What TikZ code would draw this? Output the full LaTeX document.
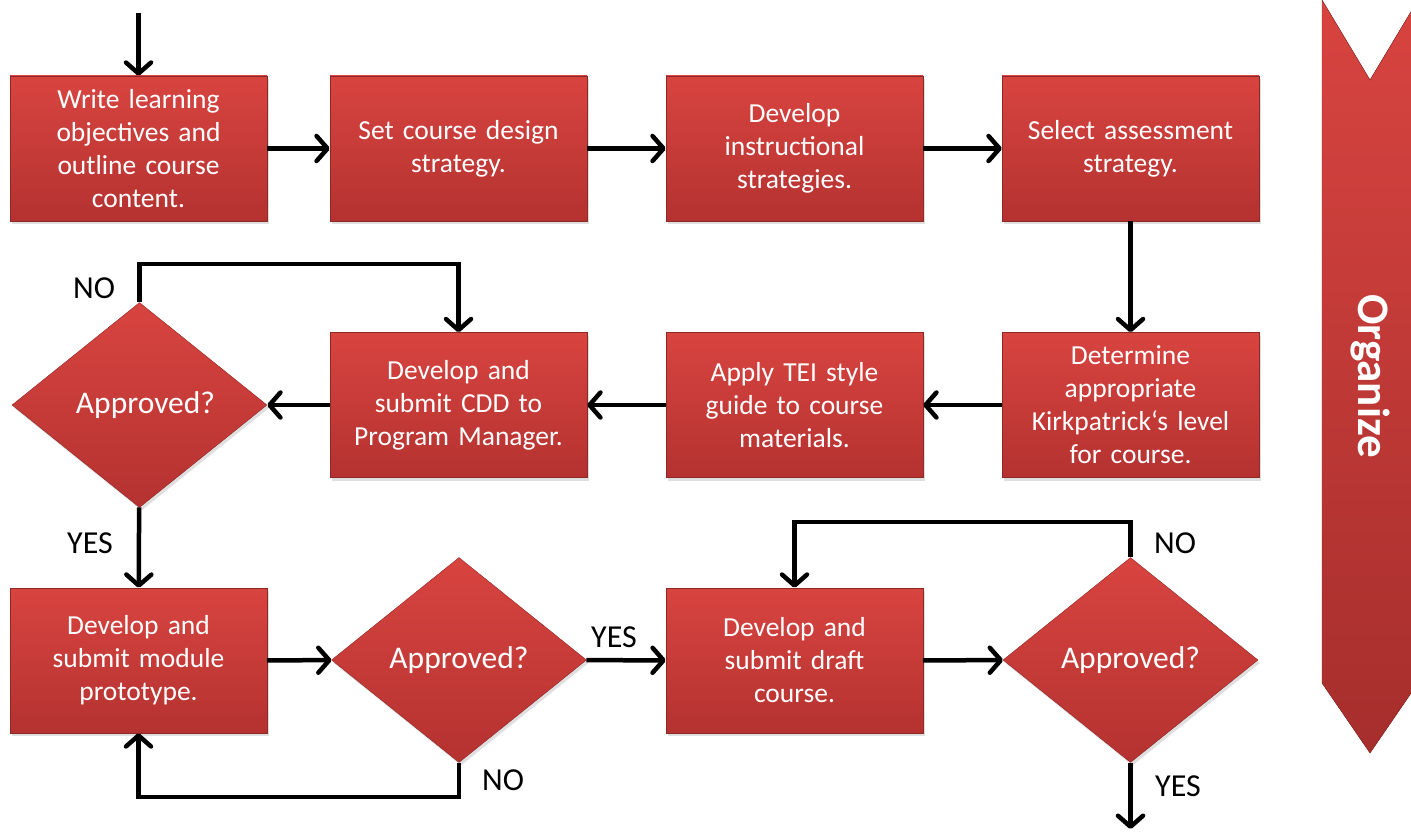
\documentclass[tikz,border=0pt]{standalone}
\usepackage{fontspec}
\setmainfont{Carlito}
\usetikzlibrary{shapes.geometric,arrows.meta,shadows}
\definecolor{boxtop}{RGB}{216,68,64}
\definecolor{boxbot}{RGB}{180,50,48}
\definecolor{boxline}{RGB}{140,40,38}
\begin{document}
\begin{tikzpicture}[x=1pt,y=-1pt,
  box/.style={rectangle, draw=boxline, top color=boxtop, bottom color=boxbot,
    minimum width=257pt, minimum height=145pt, text width=245pt, align=center,
    text=white, font=\fontsize{27.5}{33}\selectfont,
    drop shadow={opacity=0.25, shadow xshift=2pt, shadow yshift=-3pt}},
  decide/.style={diamond, draw=boxline, top color=boxtop, bottom color=boxbot,
    minimum width=255pt, minimum height=205pt, inner sep=0pt, align=center,
    text=white, font=\fontsize{31.5}{36}\selectfont,
    drop shadow={opacity=0.25, shadow xshift=2pt, shadow yshift=-3pt}},
  flow/.style={line width=4.5pt, -{Straight Barb[length=11pt,width=25pt,line width=4.5pt,round]}},
  lbl/.style={font=\fontsize{32}{36}\selectfont}]
\useasboundingbox (0,0) rectangle (1411,832);

% side banner
\fill[top color=boxtop, bottom color=boxbot!92!black, draw=boxline]
  (1322,0) -- (1370,80) -- (1418,0) -- (1418,683) -- (1370,753) -- (1322,683) -- cycle;
\node[rotate=-90, text=white, font=\fontsize{45}{50}\selectfont\bfseries] (organize) at (1370,376) {Organize};

% row 1
\node[box] (objectives) at (138.5,148.5) {Write learning\\objectives and\\outline course\\content.};
\node[box] (design) at (458.5,148.5) {Set course design\\strategy.};
\node[box] (instruct) at (794.5,148.5) {Develop\\instructional\\strategies.};
\node[box] (assess) at (1130.5,148.5) {Select assessment\\strategy.};

% row 2
\node[decide] (approveA) at (139.5,405) {\hspace*{12pt}Approved?};
\node[box] (cdd) at (458.5,405) {Develop and\\submit CDD to\\Program Manager.};
\node[box] (styleguide) at (794.5,405) {Apply TEI style\\guide to course\\materials.};
\node[box] (kirk) at (1130.5,405) {Determine\\appropriate\\Kirkpatrick‘s level\\for course.};

% row 3
\node[box] (prototype) at (138.5,660.5) {Develop and\\submit module\\prototype.};
\node[decide] (approveB) at (459,660) {Approved?};
\node[box] (draft) at (794.5,660.5) {Develop and\\submit draft\\course.};
\node[decide] (approveC) at (1130.5,660) {Approved?};

\coordinate (start) at (138.5,13);
\coordinate (finish) at (1130.5,829);

% connectors
\draw[flow] (start) -- (objectives);
\draw[flow] (objectives) -- (design);
\draw[flow] (design) -- (instruct);
\draw[flow] (instruct) -- (assess);
\draw[flow] (assess) -- (kirk);
\draw[flow] (kirk) -- (styleguide);
\draw[flow] (styleguide) -- (cdd);
\draw[flow] (cdd) -- (approveA);
\draw[flow] (approveA.north) |- (458.5,264) -- (cdd.north);
\draw[flow] (approveA) -- (prototype);
\draw[flow] (prototype) -- (approveB);
\draw[flow] (approveB.south) |- (138.5,797) -- (prototype.south);
\draw[flow] (approveB) -- (draft);
\draw[flow] (draft) -- (approveC);
\draw[flow] (approveC.north) |- (794.5,522) -- (draft.north);
\draw[flow] (approveC) -- (finish);

% labels
\node[lbl] (noA) at (94,288) {NO};
\node[lbl] (yesA) at (90,543) {YES};
\node[lbl] (noB) at (503,780) {NO};
\node[lbl] (yesB) at (614,637) {YES};
\node[lbl] (noC) at (1175,543) {NO};
\node[lbl] (yesC) at (1178,786) {YES};
\end{tikzpicture}
\end{document}
